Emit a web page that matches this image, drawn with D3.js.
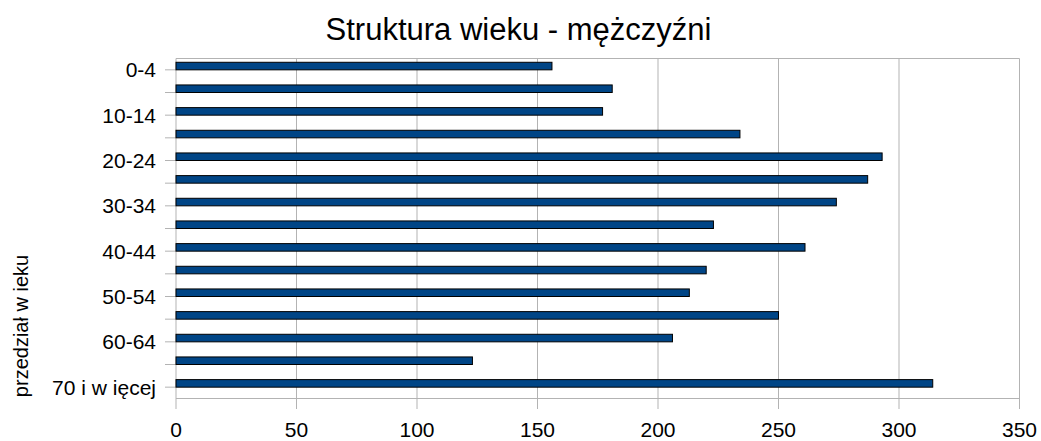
<!DOCTYPE html>
<html>
<head>
<meta charset="utf-8">
<script src="https://cdn.jsdelivr.net/npm/d3@7"></script>
<style>
    body { margin: 0; background: #fff; }
    text { font-family: "Liberation Sans", Arial, sans-serif; fill: #000; }
</style>
</head>
<body>
<svg id="chart"></svg>
<script>
const categories = ["0-4", "5-9", "10-14", "15-19", "20-24", "25-29", "30-34", "35-39",
    "40-44", "45-49", "50-54", "55-59", "60-64", "65-69", "70 i w ięcej"];
const values = [156, 181, 177, 234, 293, 287, 274, 223, 261, 220, 213, 250, 206, 123, 314];
const xTicks = [0, 50, 100, 150, 200, 250, 300, 350];

const width = 1041;
const height = 441;
const plot = { left: 176, right: 1019.5, top: 58.5, bottom: 398.5 };
const gridColor = "#b3b3b3";

const svg = d3.select("#chart")
    .attr("width", width)
    .attr("height", height);

const x = d3.scaleLinear()
    .domain([0, 350])
    .range([plot.left, plot.right]);

const y = d3.scaleBand()
    .domain(categories)
    .range([plot.top, plot.bottom]);

// vertical gridlines, running down past the axis as tick marks
svg.append("g")
    .selectAll("line")
    .data(xTicks)
    .enter()
    .append("line")
    .attr("x1", d => x(d))
    .attr("x2", d => x(d))
    .attr("y1", plot.top)
    .attr("y2", plot.bottom + 10.5)
    .attr("stroke", gridColor);

// frame top + bottom axis line
svg.append("line")
    .attr("x1", plot.left).attr("x2", plot.right)
    .attr("y1", plot.top).attr("y2", plot.top)
    .attr("stroke", gridColor);
svg.append("line")
    .attr("x1", plot.left).attr("x2", plot.right)
    .attr("y1", plot.bottom).attr("y2", plot.bottom)
    .attr("stroke", gridColor);

// category ticks
svg.append("g")
    .selectAll("line")
    .data(categories)
    .enter()
    .append("line")
    .attr("x1", plot.left - 11)
    .attr("x2", plot.left)
    .attr("y1", d => y(d) + y.bandwidth() / 2)
    .attr("y2", d => y(d) + y.bandwidth() / 2)
    .attr("stroke", gridColor);

// bars (upper half of the group, second series is empty)
const barH = y.bandwidth() / 3;
svg.append("g")
    .selectAll("rect")
    .data(values)
    .enter()
    .append("rect")
    .attr("x", x(0))
    .attr("y", (d, i) => y(categories[i]) + y.bandwidth() / 2 - barH)
    .attr("width", d => x(d) - x(0))
    .attr("height", barH)
    .attr("fill", "#004586")
    .attr("stroke", "#000")
    .attr("stroke-width", 1);

// category labels, every second one
svg.append("g")
    .selectAll("text")
    .data(categories.filter((d, i) => i % 2 === 0))
    .enter()
    .append("text")
    .attr("x", 156)
    .attr("y", d => y(d) + y.bandwidth() / 2)
    .attr("dy", "0.35em")
    .attr("text-anchor", "end")
    .style("font-size", "21px")
    .text(d => d);

// value labels
svg.append("g")
    .selectAll("text")
    .data(xTicks)
    .enter()
    .append("text")
    .attr("x", d => x(d))
    .attr("y", 436.5)
    .attr("text-anchor", "middle")
    .style("font-size", "21px")
    .text(d => d);

svg.append("text")
    .attr("x", 518.5)
    .attr("y", 39.5)
    .attr("text-anchor", "middle")
    .style("font-size", "31px")
    .text("Struktura wieku - mężczyźni");

svg.append("text")
    .attr("transform", "translate(28, 326) rotate(-90)")
    .attr("text-anchor", "middle")
    .style("font-size", "20px")
    .text("przedział w ieku");
</script>
</body>
</html>
